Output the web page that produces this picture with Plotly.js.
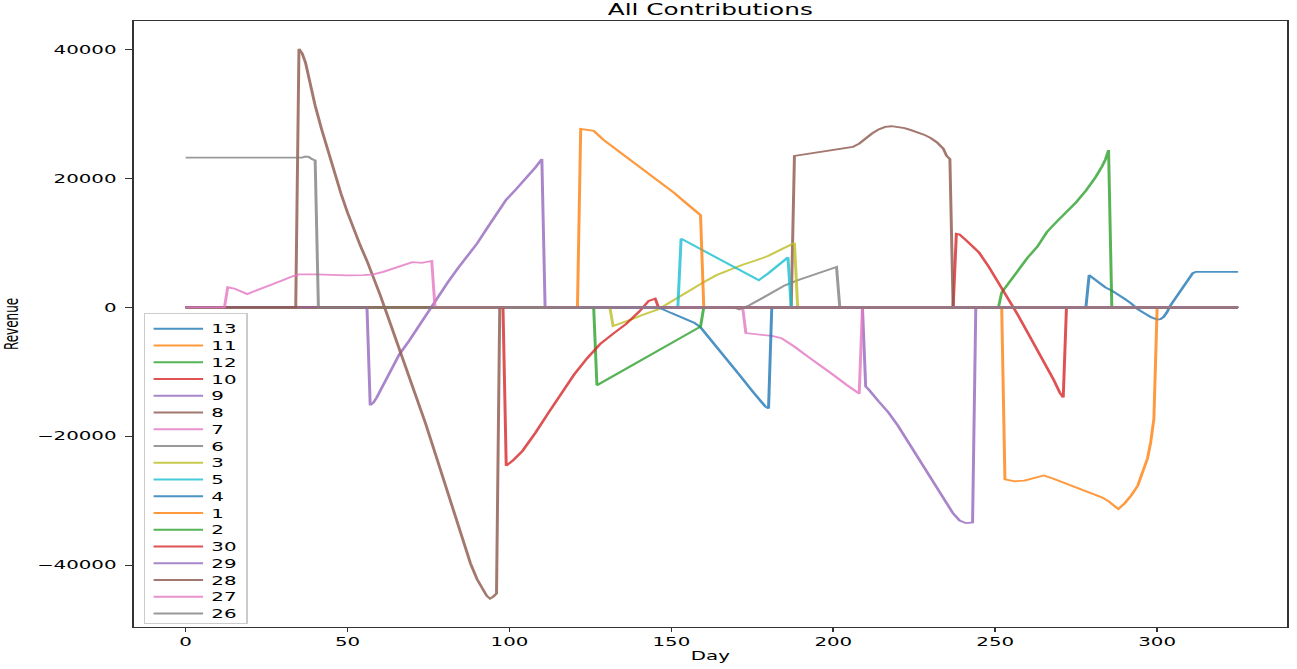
<!DOCTYPE html>
<html>
<head>
<meta charset="utf-8">
<script src="https://cdn.plot.ly/plotly-3.0.1.min.js"></script>
<style>
html,body{margin:0;padding:0;background:#fff;overflow:hidden;}
#wrap{width:1297px;height:669px;overflow:hidden;}
#chart{width:786px;height:669px;transform:scaleX(1.65);transform-origin:0 0;}
</style>
</head>
<body>
<div id="wrap"><div id="chart"></div></div>
<script>
// Legend / series names (in plotting order)
const seriesNames = ["13","11","12","10","9","8","7","6","3","5","4","1","2","30","29","28","27","26"];

// Day / Revenue readings per series
const days13 = [0, 278, 279, 280, 282, 284, 286, 288, 290, 292, 294, 296, 298, 300, 301, 302, 303, 304, 306, 308, 310, 311, 312, 325];
const rev13  = [0, 0, 5000, 4600, 3800, 3100, 2600, 2000, 1300, 600, -300, -900, -1500, -1900, -1850, -1500, -800, 200, 1700, 3200, 4700, 5300, 5500, 5500];

const days11 = [0, 252, 253, 256, 259, 262, 265, 268, 271, 274, 277, 280, 283, 285, 287, 288, 290, 292, 294, 296, 297, 298, 299, 300, 325];
const rev11  = [0, 0, -26700, -27000, -26900, -26500, -26100, -26600, -27200, -27700, -28300, -28900, -29500, -30100, -31000, -31300, -30400, -29200, -27700, -25000, -23500, -21000, -17300, 0, 0];

const days12 = [0, 251, 252, 256, 260, 263, 266, 269, 272, 275, 278, 281, 283, 284, 285, 286, 325];
const rev12  = [0, 0, 2300, 5100, 7700, 9400, 11700, 13300, 14800, 16300, 18100, 20200, 21900, 22900, 24400, 0, 0];

const days10 = [0, 237, 238, 239, 241, 243, 245, 248, 251, 254, 257, 260, 263, 266, 268, 270, 271, 272, 325];
const rev10  = [0, 0, 11400, 11300, 10400, 9500, 8500, 6300, 3900, 1500, -1200, -3900, -6600, -9400, -11200, -13300, -14000, 0, 0];

const days9 = [0, 209, 210, 211, 214, 217, 220, 223, 226, 229, 232, 235, 237, 239, 241, 243, 244, 325];
const rev9  = [0, 0, -12300, -12800, -14600, -16300, -18400, -20800, -23200, -25600, -28000, -30400, -32000, -33100, -33500, -33400, 0, 0];

const days8 = [0, 187, 188, 192, 196, 200, 204, 206, 208, 210, 212, 214, 216, 218, 220, 222, 224, 226, 228, 230, 232, 234, 235, 236, 237, 325];
const rev8  = [0, 0, 23500, 23800, 24100, 24400, 24700, 24900, 25400, 26200, 27000, 27600, 28000, 28100, 28000, 27800, 27500, 27200, 26800, 26300, 25600, 24600, 23500, 23000, 0, 0];

const days7 = [0, 172, 173, 177, 181, 184, 188, 192, 196, 200, 204, 207, 208, 209, 325];
const rev7  = [0, 0, -4000, -4200, -4450, -4800, -6100, -7600, -9000, -10500, -12000, -13100, -13400, 0, 0];

const days6 = [0, 169, 171, 174, 178, 182, 185, 189, 193, 197, 201, 202, 325];
const rev6  = [0, 0, -350, 300, 1400, 2600, 3400, 4200, 4900, 5500, 6250, 0, 0];

const days3 = [0, 131, 132, 135, 138, 141, 144, 146, 148, 151, 154, 157, 160, 164, 168, 172, 176, 180, 184, 188, 189, 325];
const rev3  = [0, 0, -2900, -2400, -1800, -1200, -700, -300, 300, 1200, 2200, 3100, 3900, 5000, 5850, 6600, 7250, 8000, 9000, 9980, 0, 0];

const days5 = [0, 152, 153, 157, 161, 165, 169, 173, 177, 180, 183, 186, 187, 325];
const rev5  = [0, 0, 10650, 9600, 8500, 7500, 6400, 5300, 4200, 5300, 6500, 7750, 0, 0];

const days4 = [0, 146, 150, 154, 157, 159, 163, 167, 171, 175, 179, 180, 181, 325];
const rev4  = [0, 0, -900, -1800, -2400, -3100, -5500, -8000, -10500, -13000, -15400, -15700, 0, 0];

const days1 = [0, 121, 122, 124, 126, 129, 133, 137, 141, 145, 148, 151, 154, 157, 159, 160, 325];
const rev1  = [0, 0, 27700, 27600, 27400, 26000, 24500, 23000, 21600, 20100, 19000, 17700, 16400, 15100, 14300, 0, 0];

const days2 = [0, 126, 127, 158, 159, 160, 325];
const rev2  = [0, 0, -12100, -3300, -3000, 0, 0];

const days30 = [0, 98, 99, 101, 104, 108, 112, 116, 120, 124, 128, 132, 136, 140, 143, 145, 146, 325];
const rev30  = [0, 0, -24600, -23800, -22300, -19500, -16400, -13300, -10400, -7900, -5700, -4100, -2600, -700, 1000, 1350, 0, 0];

const days29 = [0, 56, 57, 58, 59, 61, 63, 66, 69, 72, 75, 78, 81, 84, 87, 90, 93, 96, 99, 102, 105, 108, 110, 111, 325];
const rev29  = [0, 0, -15200, -14800, -14000, -12000, -10000, -7300, -5200, -2900, -700, 1800, 3900, 6000, 8000, 9900, 12200, 14600, 16700, 18300, 19900, 21700, 23000, 0, 0];

const days28 = [12, 34, 35, 36, 37, 38, 39, 40, 42, 44, 46, 48, 50, 52, 54, 56, 58, 60, 62, 64, 66, 68, 70, 72, 74, 76, 78, 80, 82, 84, 86, 88, 90, 92, 93, 94, 95, 96, 97, 325];
const rev28  = [0, 0, 40100, 39400, 38000, 35600, 33300, 31300, 27600, 24100, 20700, 17600, 14700, 12000, 9500, 7200, 4800, 2000, -800, -3600, -6400, -9200, -12000, -14900, -17900, -21000, -24200, -27400, -30600, -33900, -37000, -39800, -42200, -44100, -44800, -45200, -44900, -44400, 0, 0];

const days27 = [0, 12, 13, 15, 17, 19, 21, 24, 27, 30, 33, 35, 40, 45, 50, 55, 58, 61, 64, 67, 70, 73, 75, 76, 77, 325];
const rev27  = [0, 0, 3100, 2900, 2500, 2050, 2450, 3000, 3600, 4200, 4800, 5100, 5100, 5000, 4950, 5000, 5100, 5500, 6000, 6600, 7000, 6900, 7100, 7200, 0, 0];

const days26 = [0, 36, 37, 38, 39, 40, 41, 325];
const rev26  = [23230, 23230, 23400, 23350, 23000, 22800, 0, 0];

const xTicks = [0, 50, 100, 150, 200, 250, 300];
const yTicks = [-40000, -20000, 0, 20000, 40000];

const seriesDays = [days13, days11, days12, days10, days9, days8, days7, days6, days3, days5, days4, days1, days2, days30, days29, days28, days27, days26];
const seriesRev  = [rev13, rev11, rev12, rev10, rev9, rev8, rev7, rev6, rev3, rev5, rev4, rev1, rev2, rev30, rev29, rev28, rev27, rev26];

const palette = ["#1f77b4","#ff7f0e","#2ca02c","#d62728","#9467bd","#8c564b","#e377c2","#7f7f7f","#bcbd22","#17becf"];

const traces = seriesNames.map((name, i) => ({
  type: 'scatter',
  mode: 'lines',
  name: name,
  x: seriesDays[i],
  y: seriesRev[i],
  opacity: 0.8,
  line: {color: palette[i % palette.length], width: 1.8}
}));

const FONT = 'DejaVu Sans, sans-serif';

const layout = {
  width: 786,
  height: 669,
  margin: {l: 80.6, r: 6.06, t: 21, b: 42, autoexpand: false},
  paper_bgcolor: '#ffffff',
  plot_bgcolor: '#ffffff',
  font: {family: FONT, size: 12, color: '#000000'},
  title: {
    text: 'All Contributions',
    font: {family: FONT, size: 15, color: '#000000'},
    x: 0.5, xref: 'paper', xanchor: 'center',
    y: 1 - 10/669, yref: 'container', yanchor: 'middle'
  },
  showlegend: true,
  legend: {
    x: 0.0087, y: 0.5177, xanchor: 'left', yanchor: 'top',
    bgcolor: 'rgba(255,255,255,0.8)',
    bordercolor: '#cccccc', borderwidth: 1,
    font: {family: FONT, size: 12, color: '#000000'},
    traceorder: 'normal'
  },
  xaxis: {
    range: [-16.05, 340.1],
    tickvals: xTicks,
    ticktext: xTicks.map(String),
    ticks: 'outside', ticklen: 4, tickwidth: 1, tickcolor: '#333',
    showline: true, mirror: true, linecolor: '#333', linewidth: 1,
    showgrid: false, zeroline: false, automargin: false,
    tickfont: {family: FONT, size: 12, color: '#000'},
    title: {text: 'Day', font: {family: FONT, size: 12, color: '#000'}, standoff: 3}
  },
  yaxis: {
    range: [-49620, 44436],
    tickvals: yTicks,
    ticktext: yTicks.map(v => (v < 0 ? '\u2212' + Math.abs(v) : String(v))),
    ticks: 'outside', ticklen: 4, tickwidth: 1, tickcolor: '#333',
    ticklabelstandoff: 3,
    showline: true, mirror: true, linecolor: '#333', linewidth: 1,
    showgrid: false, zeroline: false, automargin: false,
    tickfont: {family: FONT, size: 12, color: '#000'},
    title: {text: 'Revenue', font: {family: FONT, size: 12, color: '#000'}, standoff: 8}
  }
};

Plotly.newPlot('chart', traces, layout, {displayModeBar: false, staticPlot: true}).then(gd => {
  // tighten legend row spacing to match the reference
  const items = gd.querySelectorAll('.legend .traces');
  const re = /translate\(\s*([-\d.eE]+)[\s,]+([-\d.eE]+)\s*\)/;
  if (items.length > 1) {
    const pos = Array.from(items).map(el => {
      const m = re.exec(el.getAttribute('transform') || '');
      return m ? [parseFloat(m[1]), parseFloat(m[2])] : null;
    });
    if (pos.every(p => p)) {
      const origStep = pos[1][1] - pos[0][1];
      const newStep = 16.75;
      items.forEach((el, i) => {
        el.setAttribute('transform', 'translate(' + pos[i][0] + ',' + (pos[0][1] + i * newStep) + ')');
      });
      const bg = gd.querySelector('.legend rect.bg');
      if (bg) {
        const h = parseFloat(bg.getAttribute('height'));
        bg.setAttribute('height', h - (items.length - 1) * (origStep - newStep) - 5);
      }
    }
  }
});
</script>
</body>
</html>
